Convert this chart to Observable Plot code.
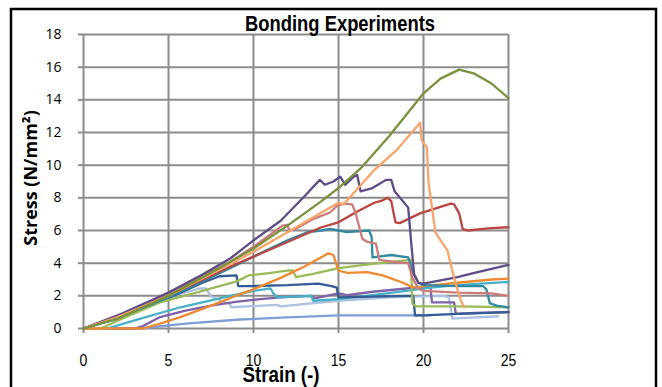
<!DOCTYPE html>
<html><head><meta charset="utf-8">
<script src="https://cdn.jsdelivr.net/npm/d3@7"></script>
<script src="https://cdn.jsdelivr.net/npm/@observablehq/plot@0.6"></script>
<style>
html,body{margin:0;padding:0;background:#fff;}
#chart{position:relative;width:662px;height:387px;overflow:hidden;}
</style></head><body><div id="chart"></div>
<script>
const titleText = "Bonding Experiments";
const xLabel = "Strain (-)";
const yLabel = "Stress (N/mm²)";
const xTicks = [0, 5, 10, 15, 20, 25];
const yTicks = [0, 2, 4, 6, 8, 10, 12, 14, 16, 18];

// each series: [strain, stress]
const cornflower = [[0,0],[3.3,0],[6,0.3],[9.2,0.55],[12,0.68],[15,0.8],[18,0.8],[20.4,0.8]];
const lightBlue = [[0,0],[2,0.7],[5,1.9],[6.8,2.45],[7.2,2.45],[7.5,1.95],[8.6,1.5],[8.7,1.3],[11.4,1.45],[11.6,1.35],[15,1.7],[18,1.9],[21.2,2.0],[21.5,1.9],[21.7,0.6],[22.5,0.65],[24.4,0.75]];
const medPurple = [[0,0],[3,0],[3.5,0.15],[4.5,0.7],[6,1.1],[7.5,1.4],[9.05,1.65],[10.4,1.8],[11.6,1.9],[13.4,2.0],[13.6,1.85],[15,2.15],[15.5,2.05],[17,2.25],[19,2.45],[20.4,2.6],[20.5,1.6],[21.8,1.6],[21.9,0.9],[23,0.95],[25,1.0]];
const aqua = [[0,0],[1.4,0],[3,0.5],[5.7,1.3],[8.65,2.0],[10,2.3],[11,2.45],[11.2,2.1],[11.4,1.9],[13.4,2.0],[13.5,1.7],[15,1.8],[17,2.05],[19,2.3],[20.4,2.5],[22,2.65],[25,2.85]];
const darkBlue = [[0,0],[2,0.6],[5,1.85],[7,2.8],[8,3.2],[9,3.25],[9.1,2.6],[10,2.6],[12,2.65],[13.8,2.75],[14.6,2.6],[14.9,2.5],[15,1.9],[17,1.95],[19,2.0],[19.4,2.0],[19.5,0.8],[20,0.8],[22,0.9],[25,1.0]];
const lightGreen = [[0,0],[1,0],[2.5,0.7],[4.5,1.6],[7,2.3],[9.05,2.9],[9.7,3.25],[11,3.4],[12,3.55],[12.3,3.55],[12.5,3.15],[13.5,3.35],[15,3.7],[17,3.95],[19.25,4.2],[19.35,1.5],[19.6,1.35],[22,1.35],[25,1.3]];
const orange = [[0,0],[3.5,0],[4.5,0.3],[5.7,0.7],[7,1.2],[8,1.6],[9.2,2.1],[10,2.4],[11.6,3.1],[13,3.8],[14.4,4.6],[14.7,4.5],[15,3.55],[15.5,3.4],[16.7,3.45],[17.6,3.25],[18.8,2.8],[19.2,2.6],[19.6,2.5],[20,2.6],[22,2.8],[24,3.0],[25,3.05]];
const teal = [[0,0],[2,0.65],[5,1.9],[8.65,3.7],[10,4.4],[12,5.4],[13.2,5.9],[14,6.0],[14.5,6.1],[15,6.0],[15.5,5.9],[16.8,6.0],[16.95,5.6],[17,4.35],[18.1,4.5],[19.1,4.35],[19.4,3.4],[19.7,2.8],[20,2.65],[22,2.6],[23.5,2.6],[23.7,2.4],[23.9,1.55],[24.3,1.4],[25,1.3]];
const red = [[0,0],[2,0.7],[5,2.0],[8.65,3.8],[10,4.4],[12,5.3],[14,6.2],[15,6.5],[16,7.1],[17.1,7.7],[17.6,7.85],[17.9,8.0],[18.1,7.8],[18.35,6.5],[18.6,6.45],[19.8,7.05],[20.4,7.25],[21.6,7.65],[21.8,7.6],[22.1,7.05],[22.3,6.1],[22.6,6.0],[23.5,6.1],[24,6.15],[25,6.2]];
const rose = [[0,0],[2,0.75],[5,2.1],[8.65,4.1],[10,5.0],[11.7,6.3],[12,6.35],[12.1,6.0],[12.5,6.1],[13.5,6.7],[14.5,7.1],[14.9,7.5],[15.3,7.65],[15.8,7.6],[16,7.1],[16.4,5.5],[16.7,5.3],[17.2,5.2],[17.4,4.2],[18.5,4.05],[19.1,4.0],[19.35,3.1],[19.7,2.45],[20,2.3],[22,2.2],[24,2.15],[25,2.0]];
const darkPurple = [[0,0],[2,0.8],[5,2.2],[7,3.3],[8.65,4.3],[10,5.4],[11.6,6.6],[13,8.1],[13.9,9.1],[14.2,8.8],[14.7,9.0],[15.1,9.3],[15.4,8.8],[15.9,9.3],[16.1,9.4],[16.3,8.4],[17,8.6],[17.8,9.1],[18.1,9.1],[18.3,8.4],[19.1,7.4],[19.3,5.0],[19.45,3.3],[19.7,2.8],[20,2.75],[21,2.95],[22,3.15],[23,3.4],[24,3.65],[25,3.9]];
const lightOrange = [[0,0],[2,0.7],[5,2.0],[8,3.6],[10,4.7],[12,5.9],[14,7.1],[15,7.7],[15.3,7.6],[15.9,8.3],[17.1,9.7],[18.4,10.9],[19.8,12.6],[19.9,11.5],[20.2,11.1],[20.3,8.9],[20.7,5.9],[21.0,5.4],[21.4,4.8],[21.8,3.1],[22.2,1.7],[22.4,1.3]];
const olive = [[0,0],[2,0.6],[5,2.0],[8,3.7],[10,4.9],[12,6.3],[14,7.8],[15,8.6],[16.3,9.8],[18,11.8],[20,14.4],[21,15.3],[22.1,15.85],[23,15.6],[24,15.0],[25,14.1]];

const seriesList = [
  {points: cornflower, color: "#7E9FD5"},
  {points: lightBlue, color: "#ABC2E0"},
  {points: medPurple, color: "#7F62A8"},
  {points: aqua, color: "#46B0C8"},
  {points: darkBlue, color: "#335B94"},
  {points: lightGreen, color: "#9BBB59"},
  {points: orange, color: "#EE8A31"},
  {points: teal, color: "#2F8AA2"},
  {points: red, color: "#BA4541"},
  {points: rose, color: "#CC7B79"},
  {points: darkPurple, color: "#5E4B87"},
  {points: lightOrange, color: "#F9A46B"},
  {points: olive, color: "#77933C"}
];

const gridColor = "#8c8c8c";
const marks = [
  Plot.ruleY(yTicks, {stroke: gridColor, strokeWidth: 2}),
  Plot.ruleX(xTicks, {stroke: gridColor, strokeWidth: 2}),
  Plot.axisY({ticks: yTicks, tickSize: 5, tickPadding: 17, stroke: gridColor, strokeWidth: 2, fill: "#000", fontSize: 14, fontFamily: "Open Sans", label: null}),
  Plot.axisX({ticks: xTicks, tickSize: 5, tickPadding: 20, stroke: gridColor, strokeWidth: 2, fill: "#000", fontSize: 17, fontFamily: "Liberation Sans", label: null}),
  ...seriesList.map(s => Plot.line(s.points, {x: d => d[0], y: d => d[1], stroke: s.color, strokeWidth: 2.3}))
];

const chart = Plot.plot({
  width: 662, height: 387,
  marginLeft: 83, marginRight: 154, marginTop: 34, marginBottom: 59,
  x: {domain: [0, 25]},
  y: {domain: [0, 18]},
  style: {background: "#fff", color: "#000", overflow: "visible"},
  marks
});
document.getElementById("chart").appendChild(chart);

const svg = d3.select(chart);
// condense x tick labels slightly to mimic the narrow face
svg.selectAll("g[aria-label='x-axis tick label'] text").each(function() {
  const t = d3.select(this);
  const n = this.textContent.length;
  t.attr("textLength", n * 7.8).attr("lengthAdjust", "spacingAndGlyphs");
});
svg.append("rect").attr("x", 11).attr("y", 9).attr("width", 645).attr("height", 420)
  .attr("fill", "none").attr("stroke", "#000").attr("stroke-width", 2.5);
svg.append("text").attr("x", 340).attr("y", 31).attr("text-anchor", "middle")
  .attr("font-family", "Liberation Sans, Arial, sans-serif").attr("font-weight", "bold")
  .attr("font-size", 22).attr("fill", "#000")
  .attr("textLength", 190).attr("lengthAdjust", "spacingAndGlyphs").text(titleText);
svg.append("text").attr("x", 281).attr("y", 382).attr("text-anchor", "middle")
  .attr("font-family", "Liberation Sans, Arial, sans-serif").attr("font-weight", "bold")
  .attr("font-size", 22).attr("fill", "#000")
  .attr("textLength", 77).attr("lengthAdjust", "spacingAndGlyphs").text(xLabel);
svg.append("text").attr("transform", "translate(37,178) rotate(-90)").attr("text-anchor", "middle")
  .attr("font-family", "Open Sans, sans-serif").attr("font-weight", "bold")
  .attr("font-size", 18).attr("fill", "#000").text(yLabel);
</script></body></html>
